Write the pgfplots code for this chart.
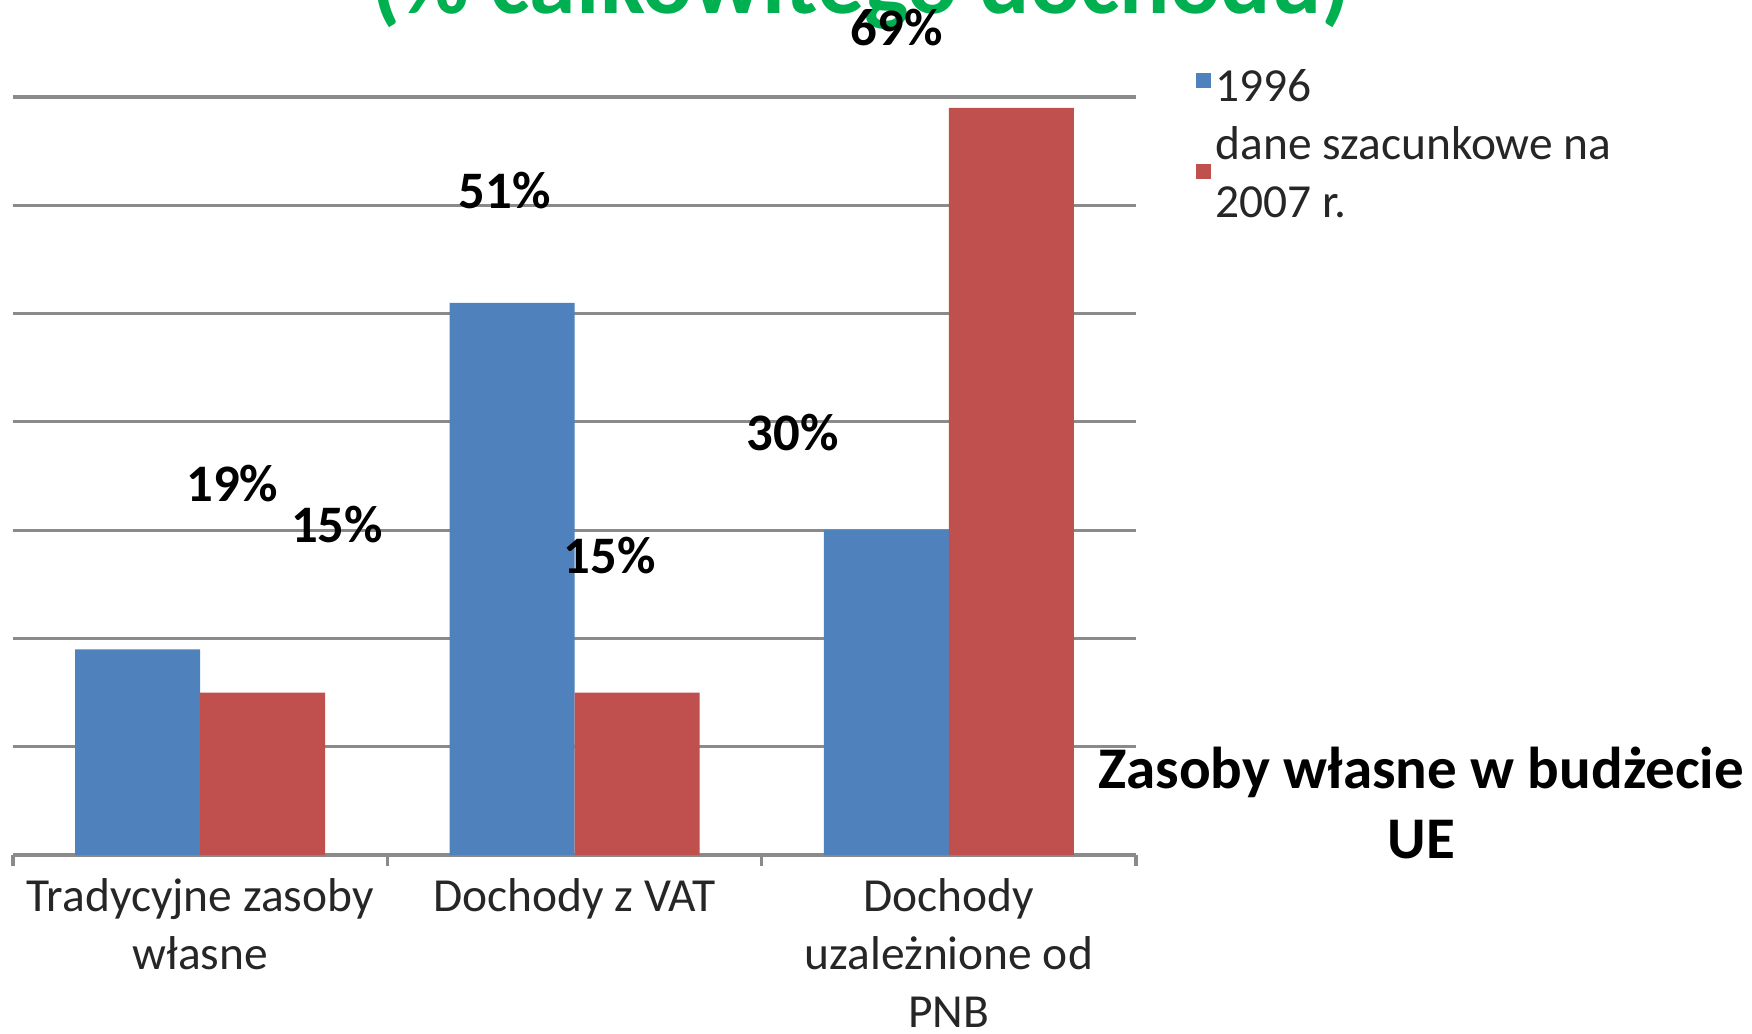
\documentclass[border=0pt]{standalone}
\usepackage{pgfplots}
\pgfplotsset{compat=1.18}
\usepackage{fontspec}
\setmainfont{Carlito}
\definecolor{barblue}{HTML}{4F81BD}
\definecolor{barred}{HTML}{C0504D}
\definecolor{titlegreen}{HTML}{00B050}
\definecolor{gridgray}{HTML}{8A8A8A}
\begin{document}
\begin{tikzpicture}
\begin{axis}[
  scale only axis,
  width=112.3mm, height=75.8mm,
  xmin=-0.5, xmax=2.5, ymin=0, ymax=70,
  axis x line*=bottom, axis y line*=left,
  x axis line style={-, draw=gridgray, line width=0.9pt},
  y axis line style={draw=none},
  xtick={0,1,2},
  xticklabels={{Tradycyjne zasoby\\własne},{Dochody z VAT},{Dochody\\uzależnione od\\PNB}},
  xticklabel style={align=center, font=\fontsize{13.5}{16.5}\selectfont, text=black!85, yshift=-1.1mm},
  major x tick style={draw=none},
  minor xtick={-0.5,0.5,1.5,2.5},
  minor x tick style={draw=gridgray, line width=0.9pt},
  minor tick length=1.1mm,
  major tick length=0pt,
  tick align=outside,
  ytick={10,20,...,70},
  yticklabels={},
  ytick style={draw=none},
  ymajorgrids,
  major grid style={draw=gridgray, line width=0.9pt},
  clip=false,
  legend style={at={(1.053,1.036)}, anchor=north west, draw=none, fill=none, inner sep=0pt, outer sep=0pt,
    row sep=1.2mm, column sep=0.5mm,
    nodes={inner sep=0pt, font=\fontsize{13.5}{16.5}\selectfont, text=black!85}},
  legend cell align=left,
]
\addplot[ybar, bar width=12.5mm, bar shift=-6.25mm, fill=barblue, draw=none,
  legend image code/.code={\fill[barblue] (0mm,0mm) rectangle (1.5mm,1.5mm);}]
  coordinates {(0,19) (1,51) (2,30)};
\addplot[ybar, bar width=12.5mm, bar shift=6.25mm, fill=barred, draw=none,
  legend image code/.code={\fill[barred] (0mm,-2.15mm) rectangle (1.5mm,-0.65mm);}]
  coordinates {(0,15) (1,15) (2,69)};
\legend{1996, {\begin{tabular}[c]{@{}l@{}}dane szacunkowe na\\2007 r.\end{tabular}}}

\begin{scope}[every node/.style={inner sep=0pt, font=\bfseries\fontsize{15}{18}\selectfont}]
\node at (axis cs:0.086,34.3) {19\%};
\node at (axis cs:0.366,30.5) {15\%};
\node at (axis cs:0.813,61.4) {51\%};
\node at (axis cs:1.094,27.7) {15\%};
\node at (axis cs:1.583,39.0) {30\%};
\end{scope}
\node[anchor=base, inner sep=0pt, font=\bfseries\fontsize{26.7}{32}\selectfont, text=titlegreen] at (axis cs:1.765,77.7) {(\% całkowitego dochodu)};
\node[inner sep=0pt, font=\bfseries\fontsize{15}{18}\selectfont] at (axis cs:1.861,76.4) {69\%};
\node[anchor=base, align=center, inner sep=0pt, font=\bfseries\fontsize{16.8}{19.9}\selectfont] at (axis cs:3.262,-0.28) {Zasoby własne w budżecie\\UE};
\end{axis}
\pgfresetboundingbox
\useasboundingbox (-1.3mm,-17.8mm) rectangle (173.9mm,85.5mm);
\end{tikzpicture}
\end{document}
